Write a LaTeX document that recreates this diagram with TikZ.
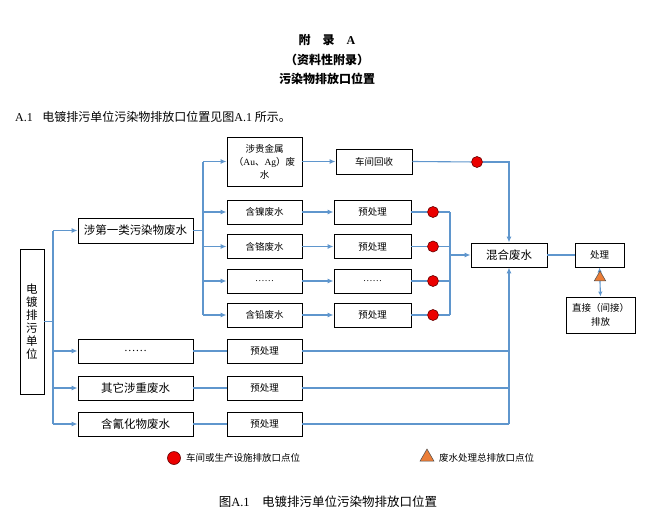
\documentclass[tikz,border=0pt]{standalone}
\usepackage{fontspec}
\setmainfont{Noto Sans CJK SC}
\newfontfamily\lat{Liberation Serif}
\usetikzlibrary{arrows.meta,shapes.geometric}
\definecolor{ln}{RGB}{95,150,205}
\definecolor{dotred}{RGB}{235,0,0}
\definecolor{triorange}{RGB}{235,125,55}
\begin{document}
\begin{tikzpicture}[x=1pt,y=-1pt,
  box/.style={draw=black,line width=0.9pt,fill=white,inner sep=1pt,align=center,font=\fontsize{9.5}{12}\selectfont},
  bigbox/.style={box,font=\fontsize{11.5}{13}\selectfont},
  cn/.style={draw=ln,line width=1.1pt},
  arr/.style={cn,-{Latex[length=6pt,width=5pt]}},
  darr/.style={cn,{Latex[length=5pt,width=4.5pt]}-{Latex[length=5pt,width=4.5pt]}},
  rdot/.style={circle,fill=dotred,draw=black!60!red,line width=0.6pt,minimum size=11pt,inner sep=0pt},
  tri/.style={regular polygon,regular polygon sides=3,fill=triorange,draw=black!70,line width=0.5pt,minimum size=13pt,inner sep=0pt},
  txt/.style={inner sep=0pt}]
\useasboundingbox (0,0) rectangle (654,528);

% header
\node[txt,font=\fontsize{12}{14}\selectfont\bfseries] (h1) at (327,40) {附\hspace{1em}录\hspace{1em}{\lat A}};
\node[txt,font=\fontsize{12}{14}\selectfont\bfseries] (h2) at (327,60) {（资料性附录）};
\node[txt,font=\fontsize{12}{14}\selectfont\bfseries] (h3) at (327,79) {污染物排放口位置};
\node[txt,anchor=west,font=\fontsize{12}{14}\selectfont] (h4) at (15,117) {{\lat A.1}\hspace{0.8em}电镀排污单位污染物排放口位置见图{\lat A.1} 所示。};

% boxes
\node[box,font=\fontsize{11.5}{13}\selectfont,minimum width=24pt,minimum height=145pt] (dd) at (32,321.5) {电\\镀\\排\\污\\单\\位};
\node[bigbox,minimum width=115pt,minimum height=25pt] (s1) at (135.5,230.5) {涉第一类污染物废水};
\node[box,minimum width=75pt,minimum height=49pt,font=\fontsize{9.5}{13}\selectfont] (g1) at (264.5,161.5) {涉贵金属\\（{\lat Au}、{\lat Ag}）废\\水};
\node[box,minimum width=75pt,minimum height=24pt] (ni) at (264.5,212) {含镍废水};
\node[box,minimum width=75pt,minimum height=24pt] (cr) at (264.5,246.5) {含铬废水};
\node[box,minimum width=75pt,minimum height=24pt] (et) at (264.5,281) {{\lat ……}};
\node[box,minimum width=75pt,minimum height=24pt] (pb) at (264.5,315) {含铅废水};

\node[box,minimum width=76pt,minimum height=25pt] (hs) at (374,161.5) {车间回收};
\node[box,minimum width=77pt,minimum height=24pt] (p1) at (372.5,212) {预处理};
\node[box,minimum width=77pt,minimum height=24pt] (p2) at (372.5,246.5) {预处理};
\node[box,minimum width=77pt,minimum height=24pt] (p3) at (372.5,281) {{\lat ……}};
\node[box,minimum width=77pt,minimum height=24pt] (p4) at (372.5,315) {预处理};

\node[bigbox,minimum width=76pt,minimum height=24pt] (mix) at (509,255) {混合废水};
\node[box,minimum width=49pt,minimum height=24pt] (cl) at (599.5,255) {处理};
\node[box,minimum width=69pt,minimum height=36pt,font=\fontsize{9.5}{14}\selectfont] (zj) at (600.5,315) {直接（间接）\\排放};

\node[bigbox,minimum width=115pt,minimum height=24pt] (o1) at (135.5,351) {{\lat ……}};
\node[bigbox,minimum width=115pt,minimum height=24pt] (o2) at (135.5,388) {其它涉重废水};
\node[bigbox,minimum width=115pt,minimum height=24pt] (o3) at (135.5,424) {含氰化物废水};
\node[box,minimum width=75pt,minimum height=24pt] (q1) at (264.5,351) {预处理};
\node[box,minimum width=75pt,minimum height=24pt] (q2) at (264.5,388) {预处理};
\node[box,minimum width=75pt,minimum height=24pt] (q3) at (264.5,424) {预处理};

% red dots
\node[rdot] (dr) at (477,162) {};
\node[rdot] (d1) at (433,212) {};
\node[rdot] (d2) at (433,246.5) {};
\node[rdot] (d3) at (433,281) {};
\node[rdot] (d4) at (433,315) {};

% trunk coordinates
\coordinate (t0) at (53,321.5);
\coordinate (ttop) at (53,230.5);
\coordinate (tbot) at (53,424);
\coordinate (b0) at (203,230.5);
\coordinate (btop) at (203,161.5);
\coordinate (bbot) at (203,315);
\coordinate (m0) at (450,255);
\coordinate (mtop) at (450,212);
\coordinate (mbot) at (450,315);
\coordinate (rc) at (509,162);
\coordinate (lb) at (509,424);

% left trunk
\draw[cn] (dd.east) -- (t0);
\draw[cn] (ttop) -- (tbot);
\draw[arr] (ttop) -- (s1.west);
\draw[arr] (ttop |- o1) -- (o1.west);
\draw[arr] (ttop |- o2) -- (o2.west);
\draw[arr] (tbot) -- (o3.west);

% second trunk
\draw[cn] (s1.east) -- (b0);
\draw[cn] (btop) -- (bbot);
\draw[arr] (btop) -- (g1.west);
\draw[arr] (btop |- ni) -- (ni.west);
\draw[arr] (btop |- cr) -- (cr.west);
\draw[arr] (btop |- et) -- (et.west);
\draw[arr] (bbot) -- (pb.west);

\draw[arr] (g1.east) -- (hs.west);
\draw[arr] (ni.east) -- (p1.west);
\draw[arr] (cr.east) -- (p2.west);
\draw[arr] (et.east) -- (p3.west);
\draw[arr] (pb.east) -- (p4.west);

% to mixing
\draw[cn] (p1.east) -- (d1);
\draw[cn] (p2.east) -- (d2);
\draw[cn] (p3.east) -- (d3);
\draw[cn] (p4.east) -- (d4);
\draw[cn] (d1) -- (mtop);
\draw[cn] (d2) -- (mtop |- d2);
\draw[cn] (d3) -- (mtop |- d3);
\draw[cn] (d4) -- (mbot);
\draw[cn] (mtop) -- (mbot);
\draw[arr] (m0) -- (mix.west);

\draw[cn] (hs.east) -- (dr);
\draw[arr] (dr) -- (rc) -- (mix.north);

\draw[cn] (o1.east) -- (q1.west);
\draw[cn] (o2.east) -- (q2.west);
\draw[cn] (o3.east) -- (q3.west);
\draw[cn] (q1.east) -- (lb |- q1);
\draw[cn] (q2.east) -- (lb |- q2);
\draw[cn] (q3.east) -- (lb);
\draw[arr] (lb) -- (mix.south);

\draw[cn] (mix.east) -- (cl.west);
\draw[darr] (cl.south) -- (zj.north);
\node[tri] (tr) at (600,277.5) {};

% legend
\node[rdot,minimum size=13pt] (ld) at (174,458) {};
\node[txt,anchor=west,font=\fontsize{9.5}{12}\selectfont] (lt1) at (186,458) {车间或生产设施排放口点位};
\node[tri,minimum size=16pt] (lt) at (427,457) {};
\node[txt,anchor=west,font=\fontsize{9.5}{12}\selectfont] (lt2) at (439,458) {废水处理总排放口点位};

% caption
\node[txt,font=\fontsize{12.5}{14}\selectfont] (cap) at (328,502) {图{\lat A.1}\hspace{1em}电镀排污单位污染物排放口位置};
\end{tikzpicture}
\end{document}
